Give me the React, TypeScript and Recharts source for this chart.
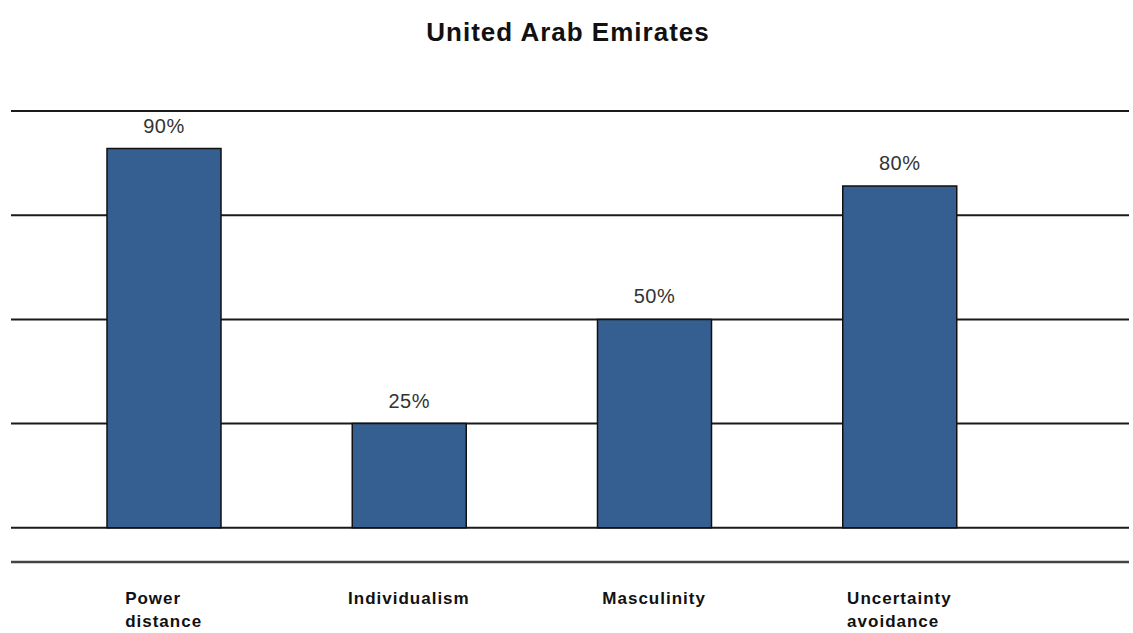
import { BarChart, Bar, XAxis, YAxis, CartesianGrid, LabelList } from "recharts";

const categories = ["Power\ndistance", "Individualism", "Masculinity", "Uncertainty\navoidance"];
const scores = [91, 25, 50, 82];
const scoreLabels = ["90%", "25%", "50%", "80%"];
const gridTicks = [0, 25, 50, 75, 100];

const data = categories.map((c, i) => ({ name: c, score: scores[i], label: scoreLabels[i] }));

const TICK_FONT = "bold 17px 'Liberation Sans', Arial, sans-serif";
const TICK_SPACING = 1;

let ctx: CanvasRenderingContext2D | null = null;
function textWidth(s: string) {
  if (!ctx) ctx = document.createElement("canvas").getContext("2d");
  if (!ctx) return s.length * 9;
  ctx.font = TICK_FONT;
  return ctx.measureText(s).width + s.length * TICK_SPACING;
}

// category tick: lines left aligned, block centred under the bar
function CategoryTick({ x, y, payload }: any) {
  const lines = String(payload.value).split("\n");
  const w = Math.max(...lines.map(textWidth));
  const left = x - w / 2;
  return (
    <text
      x={left}
      y={y + 34}
      fill="#111"
      style={{ font: TICK_FONT, letterSpacing: TICK_SPACING }}
    >
      {lines.map((l, i) => (
        <tspan key={i} x={left} dy={i === 0 ? 0 : 23}>
          {l}
        </tspan>
      ))}
    </text>
  );
}

export default function App() {
  return (
    <div style={{ position: "absolute", left: 0, top: 0, width: 1133, height: 633, background: "#fff" }}>
      <div
        style={{
          position: "absolute",
          left: 0,
          top: 17,
          width: 1136,
          textAlign: "center",
          font: "bold 26px 'Liberation Sans', Arial, sans-serif",
          letterSpacing: 1,
          color: "#111",
        }}
      >
        United Arab Emirates
      </div>
      <BarChart
        width={1133}
        height={633}
        data={data}
        margin={{ top: 111, right: 4, left: 11, bottom: 0 }}
      >
        <CartesianGrid horizontal vertical={false} stroke="#1a1a1a" strokeWidth={2} strokeDasharray="" />
        <YAxis hide domain={[-8.2, 100]} ticks={gridTicks} />
        <XAxis
          dataKey="name"
          height={71}
          padding={{ left: 30, right: 107 }}
          axisLine={{ stroke: "#444", strokeWidth: 2.5 }}
          tickLine={false}
          tick={<CategoryTick />}
          interval={0}
        />
        <Bar dataKey="score" fill="#365f91" stroke="#111" strokeWidth={1.5} barSize={114} isAnimationActive={false}>
          <LabelList
            dataKey="label"
            position="top"
            offset={16}
            style={{ font: "20px 'Liberation Sans', Arial, sans-serif", fill: "#333", letterSpacing: 0.5 }}
          />
        </Bar>
      </BarChart>
    </div>
  );
}
